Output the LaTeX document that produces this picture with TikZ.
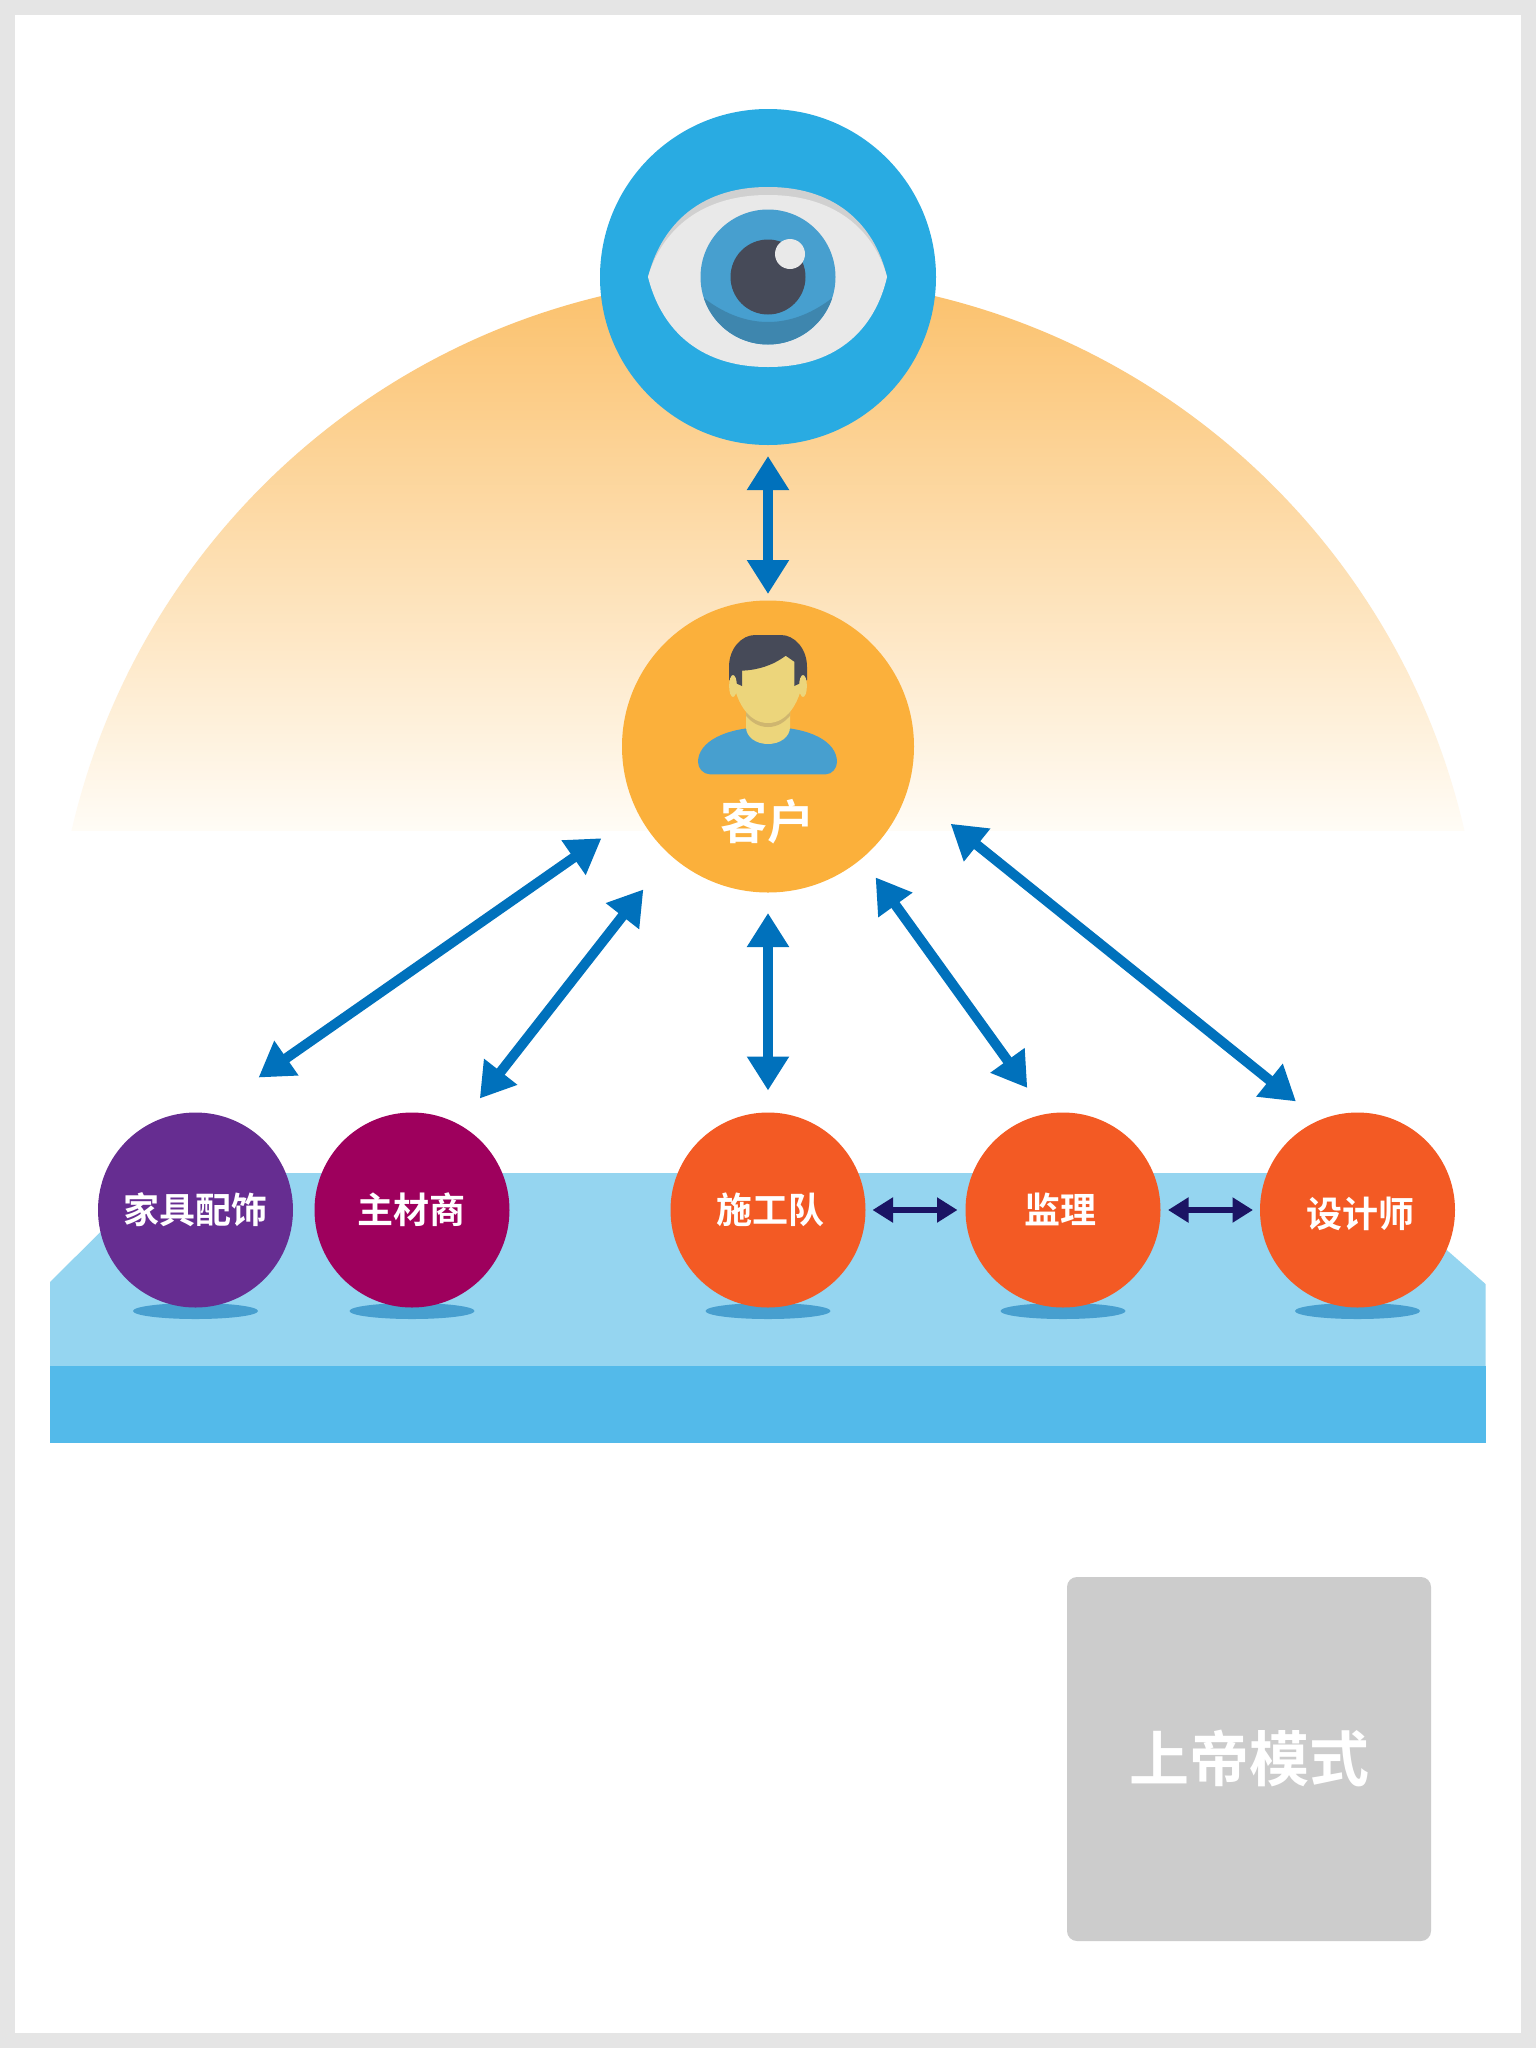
\documentclass[tikz,border=0pt]{standalone}
\usepackage{fontspec}
\newfontfamily\cjk{Noto Sans CJK SC}[BoldFont={Noto Sans CJK SC Bold}]
\usetikzlibrary{arrows.meta}
\definecolor{framegray}{HTML}{E5E5E5}
\definecolor{skyblue}{HTML}{29ABE2}
\definecolor{irisblue}{HTML}{479FCF}
\definecolor{irisdark}{HTML}{3E86AE}
\definecolor{darkgray}{HTML}{464A58}
\definecolor{eyewhite}{HTML}{E9E9E9}
\definecolor{lidgray}{HTML}{D0D0D0}
\definecolor{clientorange}{HTML}{FBB03B}
\definecolor{skin}{HTML}{ECD57B}
\definecolor{skindark}{HTML}{CFB66F}
\definecolor{arrowblue}{HTML}{0071BC}
\definecolor{navy}{HTML}{1B1464}
\definecolor{topblue}{HTML}{95D5F0}
\definecolor{frontblue}{HTML}{53BAEA}
\definecolor{furnpurple}{HTML}{662D91}
\definecolor{matred}{HTML}{9E005D}
\definecolor{teamorange}{HTML}{F35A24}
\definecolor{boxgray}{HTML}{CCCCCC}
\begin{document}
\begin{tikzpicture}[x=1pt, y=-1pt,
roundnode/.style={circle, inner sep=0pt, outer sep=0pt, minimum size=195pt},
tag/.style={text=white, inner sep=0pt, font=\cjk\bfseries\fontsize{36}{36}\selectfont},
bigarrow/.style={draw=arrowblue, line width=10pt, {Triangle[width=40pt,length=34pt]}-{Triangle[width=40pt,length=34pt]}},
smallarrow/.style={draw=navy, line width=6pt, {Triangle[width=24pt,length=20.5pt]}-{Triangle[width=24pt,length=20.5pt]}}]
\useasboundingbox (0,0) rectangle (1536,2048);
\fill[framegray] (0,0) rectangle (1536,2048);
\fill[white] (15,15) rectangle (1521,2033);
% half disc
\begin{scope}
\clip (768,991) circle (714.5);
\shade[top color={rgb,255:red,251;green,192;blue,106}, bottom color={rgb,255:red,255;green,252;blue,246}] (0,277) rectangle (1536,830);
\end{scope}
% platform
\fill[topblue] (50,1282)--(160,1173)--(1359,1173)--(1485.5,1284)--(1485.5,1366)--(50,1366)--cycle;
\fill[frontblue] (50,1366) rectangle (1485.5,1443);
% eye
\node[roundnode, fill=skyblue, minimum size=336pt] (eye) at (768,277) {};
\fill[lidgray] (648,277) .. controls (660,230) and (695,187) .. (768,187) .. controls (841,187) and (876,230) .. (887,277) -- cycle;
\fill[eyewhite] (648,277) .. controls (660,236) and (695,195) .. (768,195) .. controls (841,195) and (876,236) .. (887,277) .. controls (876,325) and (841,367) .. (768,367) .. controls (695,367) and (660,325) .. (648,277) -- cycle;
\fill[irisblue] (768,277) circle (67.5);
\begin{scope}
\clip (768,277) circle (67.5);
\fill[irisdark] (700,295) .. controls (722,313) and (745,322) .. (768,322) .. controls (791,322) and (814,313) .. (836,295) -- (836,350) -- (700,350) -- cycle;
\end{scope}
\fill[darkgray] (768,277) circle (37.5);
\fill[eyewhite] (790,254) circle (15);
% client
\node[roundnode, fill=clientorange, minimum size=292pt] (client) at (768,746.5) {};
\fill[irisblue] (710,774.3) .. controls (703,774.3) and (698,768) .. (698,762) .. controls (698,742) and (725,727) .. (768,727) .. controls (811,727) and (837,742) .. (837,762) .. controls (837,768) and (832,774.3) .. (826,774.3) -- cycle;
\fill[skin] (746,700) -- (746,727) .. controls (746,737) and (756,744) .. (768,744) .. controls (780,744) and (790,737) .. (790,727) -- (790,700) -- cycle;
\begin{scope}
\clip (746,700) rectangle (790,740);
\fill[skindark] (733,654) -- (733,684) .. controls (737,709) and (750,727) .. (768,727) .. controls (786,727) and (799,709) .. (803,684) -- (803,654) -- cycle;
\end{scope}
\fill[skin] (733,650) -- (733,680) .. controls (737,705) and (750,723) .. (768,723) .. controls (786,723) and (799,705) .. (803,680) -- (803,650) -- cycle;
\fill[darkgray] (729,667) .. controls (729,648) and (742,635) .. (755,635) -- (781,635) .. controls (794,635) and (807,648) .. (807,667) -- (807,680) -- (794.3,686) -- (794.3,661.7) -- (785.7,655.7) .. controls (772,666) and (757,670) .. (742,670.7) -- (742,686) -- (729,680) -- cycle;
\foreach \x in {733,803} \fill[skin] (\x,686) ellipse (3.9 and 11);
\node[tag, font=\cjk\bfseries\fontsize{47}{47}\selectfont] (clienttag) at (767,822) {客户};
% lower row
\foreach \n/\x/\c in {furn/195.5/furnpurple, mat/412/matred, crew/768/teamorange, super/1063/teamorange, design/1357.5/teamorange} {
  \fill[irisblue] (\x,1311) ellipse (62.5 and 8);
  \node[roundnode, fill=\c] (\n) at (\x,1210) {};
}
\foreach \n/\x/\y/\t in {furn/195.5/1210/家具配饰, mat/411.7/1210/主材商, crew/770.5/1210/施工队, super/1060/1209/监理, design/1360/1214/设计师}
  \node[tag] (\n tag) at (\x,\y) {\t};
% arrows
\draw[bigarrow, shorten <=11pt, shorten >=6.5pt] (eye.south) -- (client.north);
\draw[bigarrow, shorten <=20.5pt, shorten >=22pt] (client.south) -- (crew.north);
\foreach \a/\n/\b/\p/\q in {207.8/furn/83.2/44.5/62.4, 228/mat/61.8/43.7/33.3, 310.2/super/100.4/23.5/32.1, 343.8/design/113.6/55.2/30.1}
  \draw[bigarrow, shorten <=\p pt, shorten >=\q pt] (client.\a) -- (\n.\b);
\draw[smallarrow, shorten <=7pt, shorten >=8pt] (crew.east) -- (super.west);
\draw[smallarrow, shorten <=7.5pt, shorten >=7pt] (super.east) -- (design.west);
% legend
\node[fill=boxgray, rounded corners=10pt, minimum size=364pt, inner sep=0pt, outer sep=0pt] (legend) at (1249,1759) {};
\node[tag, font=\cjk\bfseries\fontsize{60}{60}\selectfont] (legendtag) at (1249.5,1758) {上帝模式};
\end{tikzpicture}
\end{document}
